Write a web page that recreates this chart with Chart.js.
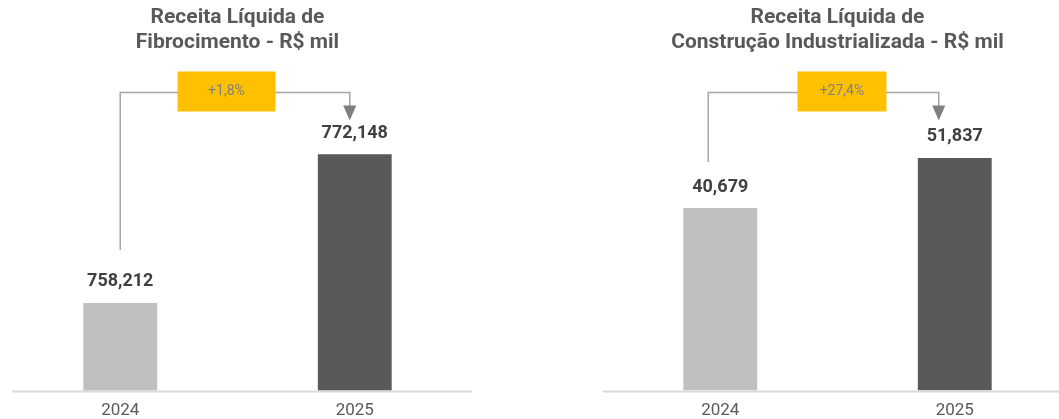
<!DOCTYPE html>
<html lang="pt-BR">
<head>
<meta charset="UTF-8" />
<title>Receita Líquida</title>
<script src="https://cdn.jsdelivr.net/npm/chart.js"></script>
<style>
    html, body { margin: 0; padding: 0; background: #fff; overflow: hidden; }
    body { width: 1059px; height: 419px; position: relative; }
    .panel { position: absolute; top: 0; width: 475px; height: 432px; }
    #left { left: 0; }
    #right { left: 600px; }
</style>
</head>
<body>
<div class="panel" id="left"><canvas id="chartFibro"></canvas></div>
<div class="panel" id="right"><canvas id="chartConstr"></canvas></div>

<script>
    const years = ["2024", "2025"];
    const fibroValues = [758212, 772148];
    const constrValues = [40679, 51837];
    const fibroTitle = ["Receita Líquida de", "Fibrocimento - R$ mil"];
    const constrTitle = ["Receita Líquida de", "Construção Industrializada - R$ mil"];
    const fibroRange = [750000, 777270];
    const constrRange = [0, 64860];
    const barColors = ["#bfbfbf", "#595959"];

    const FONT = "Roboto, 'Liberation Sans', sans-serif";

    function growthText(values) {
        const pct = (values[1] / values[0] - 1) * 100;
        return "+" + pct.toFixed(1).replace(".", ",") + "%";
    }

    // value labels above bars
    const valueLabels = {
        id: "valueLabels",
        afterDatasetsDraw(chart) {
            const ctx = chart.ctx;
            const meta = chart.getDatasetMeta(0);
            const data = chart.data.datasets[0].data;
            ctx.save();
            ctx.font = "bold 18px " + FONT;
            ctx.fillStyle = "#404040";
            ctx.textAlign = "center";
            ctx.textBaseline = "middle";
            meta.data.forEach((bar, i) => {
                ctx.fillText(data[i].toLocaleString("en-US"), bar.x, bar.y - 21);
            });
            ctx.restore();
        }
    };

    // baseline + bracket with growth box and arrow
    const bracket = {
        id: "bracket",
        afterDatasetsDraw(chart, args, opts) {
            const ctx = chart.ctx;
            const area = chart.chartArea;
            const meta = chart.getDatasetMeta(0);
            const a = meta.data[0], b = meta.data[1];
            const x1 = a.x + opts.startShift;
            const x2 = b.x + opts.endShift;
            const y = area.top - 7;
            const boxX = x1 + (x2 - x1) * opts.boxPos;

            ctx.save();
            ctx.strokeStyle = "#d9d9d9";
            ctx.lineWidth = 2;
            ctx.beginPath();
            ctx.moveTo(area.left + opts.axisInset, area.bottom + 1);
            ctx.lineTo(area.right, area.bottom + 1);
            ctx.stroke();

            ctx.strokeStyle = "#a6a6a6";
            ctx.lineWidth = 1.5;
            ctx.beginPath();
            ctx.moveTo(x1, a.y - opts.stemGap);
            ctx.lineTo(x1, y);
            ctx.lineTo(x2, y);
            ctx.lineTo(x2, y + 14);
            ctx.stroke();

            ctx.fillStyle = "#7f7f7f";
            ctx.beginPath();
            ctx.moveTo(x2 - 6.5, y + 13);
            ctx.lineTo(x2 + 6.5, y + 13);
            ctx.lineTo(x2, y + 28);
            ctx.closePath();
            ctx.fill();

            ctx.fillStyle = "#ffc000";
            ctx.fillRect(boxX - opts.boxWidth / 2, y - 21, opts.boxWidth, 40);
            ctx.fillStyle = "#808080";
            ctx.font = "14px " + FONT;
            ctx.textAlign = "center";
            ctx.textBaseline = "middle";
            ctx.fillText(opts.text, boxX, y - 1);
            ctx.restore();
        }
    };

    function makeChart(id, values, title, range, bracketOpts) {
        return new Chart(document.getElementById(id), {
            type: "bar",
            data: {
                labels: years,
                datasets: [{
                    data: values,
                    backgroundColor: barColors,
                    barPercentage: 0.315,
                    categoryPercentage: 1
                }]
            },
            options: {
                responsive: true,
                maintainAspectRatio: false,
                animation: false,
                layout: { padding: { top: 5, left: 3, right: 3, bottom: 1 } },
                plugins: {
                    legend: { display: false },
                    tooltip: { enabled: false },
                    title: {
                        display: true,
                        text: title,
                        color: "#595959",
                        font: { family: FONT, size: 21, weight: "bold", lineHeight: 1.19 },
                        padding: { top: 0, bottom: 44.5 }
                    },
                    bracket: bracketOpts
                },
                scales: {
                    x: {
                        grid: { display: false, drawTicks: false },
                        border: { display: false },
                        ticks: {
                            color: "#595959",
                            padding: 10,
                            font: { family: FONT, size: 17 }
                        }
                    },
                    y: {
                        display: false,
                        min: range[0],
                        max: range[1]
                    }
                }
            },
            plugins: [valueLabels, bracket]
        });
    }

    makeChart("chartFibro", fibroValues, fibroTitle, fibroRange, {
        text: growthText(fibroValues), startShift: 0, endShift: -5,
        boxPos: 0.463, boxWidth: 98, stemGap: 53, axisInset: 9
    });
    makeChart("chartConstr", constrValues, constrTitle, constrRange, {
        text: growthText(constrValues), startShift: -12, endShift: -16,
        boxPos: 0.58, boxWidth: 89, stemGap: 46, axisInset: 0
    });
</script>
</body>
</html>
